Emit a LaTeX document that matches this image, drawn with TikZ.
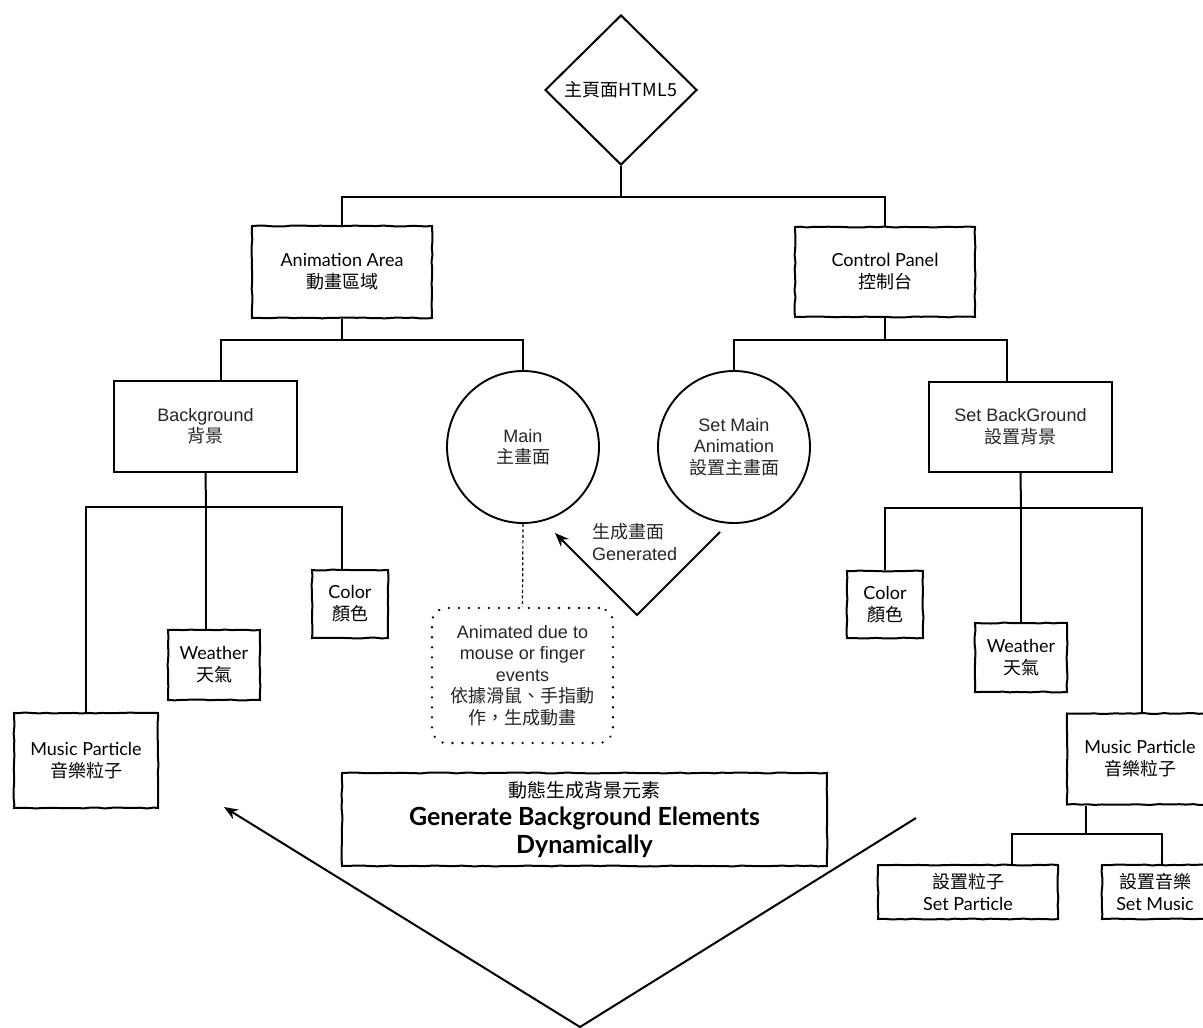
\documentclass[tikz,border=0pt]{standalone}
\usepackage{fontspec}
\setmainfont{Liberation Sans}
\newfontfamily\cjk{Noto Sans CJK TC}
\newfontfamily\sk{Lato}
\usetikzlibrary{shapes.geometric,arrows.meta,decorations.pathmorphing}
\pgfmathsetseed{7}
\begin{document}
\begin{tikzpicture}[x=1pt,y=-1pt,
  every node/.style={inner sep=0pt, align=center},
  lab/.style={font=\fontsize{18}{21.5}\selectfont, text=black!85},
  sklab/.style={font=\sk\fontsize{18}{22}\selectfont, text=black},
  plainbox/.style={draw, line width=2pt, rectangle, lab},
  sketchbox/.style={draw, line width=2pt, rectangle, sklab, decorate,
    decoration={random steps, segment length=7pt, amplitude=0.5pt}},
  circ/.style={draw, circle, line width=1.9pt, minimum size=152pt, lab},
  conn/.style={line width=2pt},
  arr/.style={line width=2pt, -{Stealth[length=14pt,width=11pt]}},
]
\useasboundingbox (0,0) rectangle (1203,1028);

% root
\node[draw, diamond, aspect=1, minimum width=152pt, minimum height=150pt,
      line width=2pt, font=\cjk\fontsize{18}{20}\selectfont] (root) at (621,90) {主頁面HTML5};

% level 1
\node[sketchbox, minimum width=180pt, minimum height=92pt] (aa) at (342,272)
  {Animation Area\\{\cjk 動畫區域}};
\node[sketchbox, minimum width=180pt, minimum height=90pt] (cp) at (885,272)
  {Control Panel\\{\cjk 控制台}};

% level 2
\node[plainbox, minimum width=183pt, minimum height=91pt] (bg) at (205.5,426.5)
  {Background\\{\cjk 背景}};
\node[circ] (main) at (523,447) {Main\\{\cjk 主畫面}};
\node[circ] (setmain) at (734,447) {Set Main\\Animation\\{\cjk 設置主畫面}};
\node[plainbox, minimum width=183pt, minimum height=90pt] (sbg) at (1020.5,427)
  {Set BackGround\\{\cjk 設置背景}};

% left leaves
\node[sketchbox, minimum width=144pt, minimum height=95pt] (lmp) at (86,760.5)
  {Music Particle\\{\cjk 音樂粒子}};
\node[sketchbox, minimum width=92pt, minimum height=70pt] (lw) at (214,665)
  {Weather\\{\cjk 天氣}};
\node[sketchbox, minimum width=76pt, minimum height=68pt] (lc) at (350,604)
  {Color\\{\cjk 顏色}};

% right leaves
\node[sketchbox, minimum width=76pt, minimum height=67pt] (rc) at (885,604.5)
  {Color\\{\cjk 顏色}};
\node[sketchbox, minimum width=92pt, minimum height=69pt] (rw) at (1021,657.5)
  {Weather\\{\cjk 天氣}};
\node[sketchbox, minimum width=146pt, minimum height=91pt] (rmp) at (1140,759)
  {Music Particle\\{\cjk 音樂粒子}};
\node[sketchbox, minimum width=180pt, minimum height=54pt] (sp) at (968,892)
  {{\cjk 設置粒子}\\Set Particle};
\node[sketchbox, minimum width=106pt, minimum height=54pt] (sm) at (1155,892)
  {{\cjk 設置音樂}\\Set Music};

% note
\node[draw, rounded corners=14pt, line width=2.6pt, line cap=round,
      dash pattern=on 0.01pt off 10pt, minimum width=181pt, minimum height=135pt, lab]
  (note) at (522.5,675.5)
  {Animated due to\\mouse or finger\\events\\{\cjk 依據滑鼠、手指動}\\{\cjk 作，生成動畫}};

% generate box
\node[sketchbox, minimum width=485pt, minimum height=93pt,
      font=\sk\bfseries\fontsize{25}{28}\selectfont] (gen) at (584.5,819.5)
  {{\cjk\mdseries\fontsize{19}{28}\selectfont 動態生成背景元素}\\Generate Background Elements\\Dynamically};

% generated label
\node[lab, anchor=west, align=left] (glab) at (592,542) {{\cjk 生成畫面}\\Generated};

% connectors
\coordinate (j0) at (621,197);
\draw[conn] (root.south) -- (j0);
\draw[conn] (aa.north) |- (j0) -| (cp.north);

\coordinate (j1) at (342,340);
\draw[conn] (aa.south) -- (j1);
\draw[conn] ([xshift=15pt]bg.north) |- (j1) -| (main.north);

\coordinate (j2) at (885,340);
\draw[conn] (cp.south) -- (j2);
\draw[conn] (setmain.north) |- (j2) -| ([xshift=-13.5pt]sbg.north);

\coordinate (j3) at (206,507);
\draw[conn] (bg.south) -- (j3);
\draw[conn] (lmp.north) |- (j3) -| ([xshift=-8pt]lc.north);
\draw[conn] (j3) -- ([xshift=-8pt]lw.north);

\coordinate (j4) at (1021,508);
\draw[conn] (sbg.south) -- (j4);
\draw[conn] (rc.north) |- (j4) -| ([xshift=2pt]rmp.north);
\draw[conn] (j4) -- (rw.north);

\coordinate (j5) at (1086,834);
\draw[conn] ([xshift=-54pt]rmp.south) -- (j5);
\draw[conn] ([xshift=44pt]sp.north) |- (j5) -| ([xshift=7pt]sm.north);

\draw[line width=1.2pt, dash pattern=on 3pt off 2.5pt] (main.south) -- (note.north);

% generated arrow
\coordinate (g1) at (720,532);
\coordinate (g2) at (637,615);
\coordinate (gt) at (555,533);
\draw[arr] (g1) -- (g2) -- (gt);

% big V arrow
\coordinate (b1) at (916,818);
\coordinate (b2) at (580,1027);
\coordinate (bt) at (224,807);
\draw[arr] (b1) -- (b2) -- (bt);
\end{tikzpicture}
\end{document}
